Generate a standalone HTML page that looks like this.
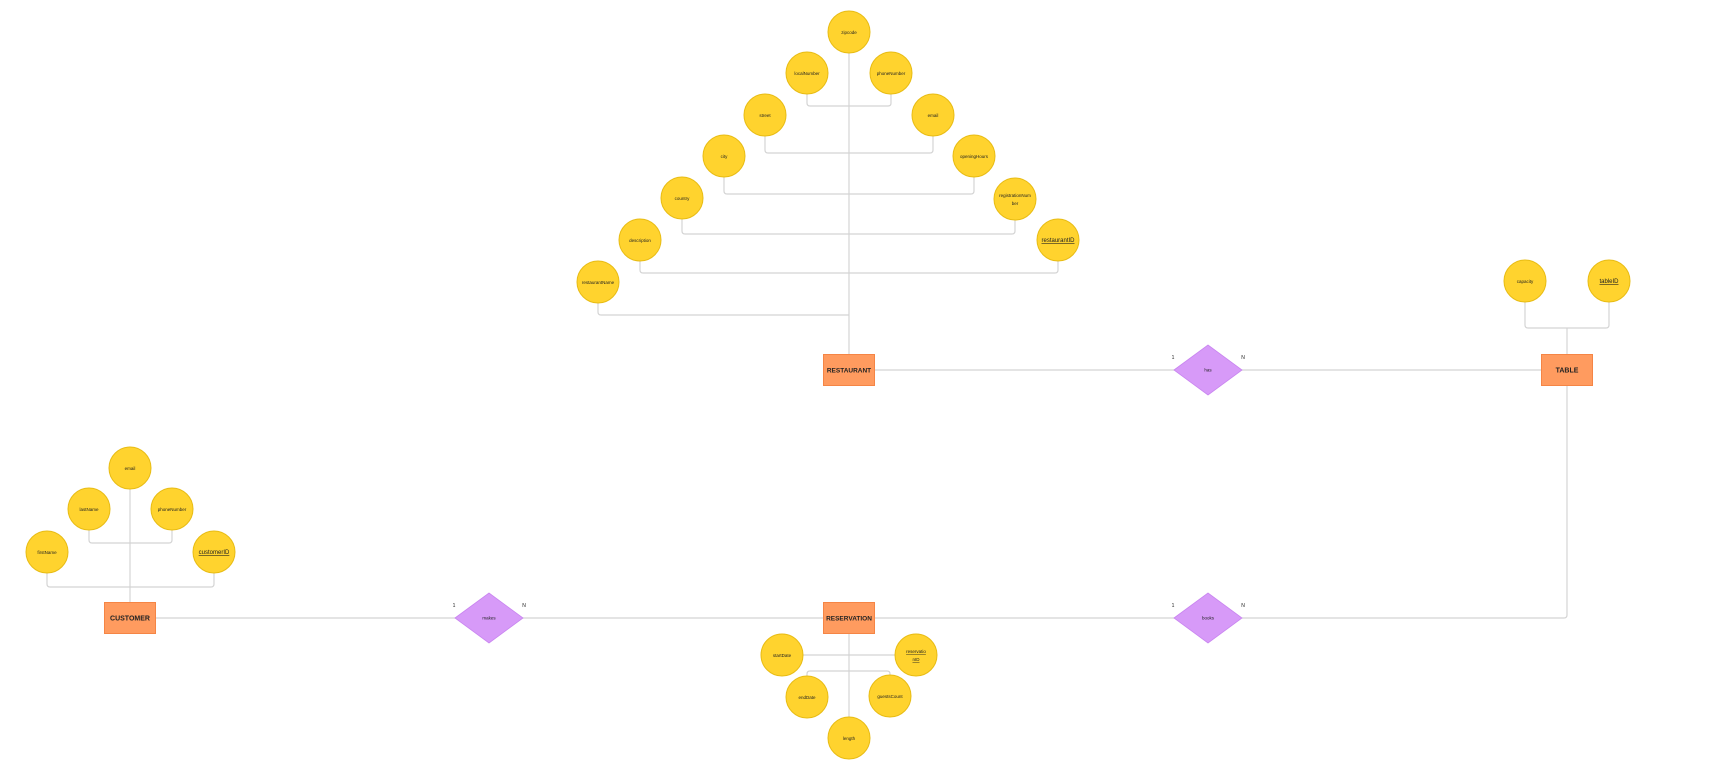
<!DOCTYPE html>
<html><head><meta charset="utf-8"><style>
html,body{margin:0;padding:0;background:#fff;}
svg{display:block;font-family:"Liberation Sans",sans-serif;}
</style></head><body>
<svg id="er" width="1717" height="783" viewBox="0 0 1717 783" xmlns="http://www.w3.org/2000/svg"></svg>
<script>
const attrNames = ["zipcode","localNumber","phoneNumber","street","email","city","openingHours","country","registrationNumber","description","restaurantID","restaurantName","email","lastName","phoneNumber","firstName","customerID","startDate","reservationID","endDate","guestsCount","length","capacity","tableID"];
const attrX = [849,807,891,765,933,724,974,682,1015,640,1058,598,130,89,172,47,214,782,916,807,890,849,1525,1609];
const attrY = [32,73,73,115,115,156,156,198,199,240,240,282,468,509,509,552,552,655,655,697,696,738,281,281];
const attrKey = [false,false,false,false,false,false,false,false,false,false,true,false,false,false,false,false,true,false,true,false,false,false,false,true];
const entNames = ["RESTAURANT","TABLE","CUSTOMER","RESERVATION"];
const entX = [849,1567,130,849];
const entY = [370,370,618,618];
const relNames = ["has","books","makes"];
const relX = [1208,1208,489];
const relY = [370,618,618];

const svg = document.getElementById('er');
const NS = "http://www.w3.org/2000/svg";
function mk(tag, attrs){ const e=document.createElementNS(NS,tag); for(const k in attrs) e.setAttribute(k,attrs[k]); svg.appendChild(e); return e; }
const LC = "#d4d4d4";
function path(d){ const p=mk('path',{d:d,fill:'none',stroke:LC,'stroke-width':1.2});
  
   return p; }
function bar(i,j,y){ // pair connector
  const r=21;
  path(`M${attrX[i]} ${attrY[i]+r} V${y-3} q0 3 3 3 H${attrX[j]-3} q3 0 3 -3 V${attrY[j]+r}`);
}
// restaurant connectors
path(`M849 53 V355`);
bar(1,2,106); bar(3,4,153); bar(5,6,194); bar(7,8,234); bar(9,10,273);
path(`M598 303 V312 q0 3 3 3 H849`);
// customer
path(`M130 489 V602`);
bar(13,14,543); bar(15,16,587);
// reservation
path(`M849 633 V717`);
path(`M803 655 H895`);
path(`M807 676 V674 q0 -3 3 -3 H887 q3 0 3 3 V675`);
// table
bar(22,23,328);
path(`M1567 328 V355`);
path(`M1567 385 V615 q0 3 -3 3 H1242`);
// relationship lines
path(`M874 370 H1542`);
path(`M156 618 H823`);
path(`M874 618 H1175`);

// attributes
for(let i=0;i<attrNames.length;i++){
  const c=mk('circle',{cx:attrX[i],cy:attrY[i],r:21,fill:'#FFD32E',stroke:'#E8BC14','stroke-width':1});
  
  
  const nm=attrNames[i];
  const lines = nm==="registrationNumber" ? ["registrationNum","ber"] : nm==="reservationID" ? ["reservatio","nID"] : [nm];
  lines.forEach((ln,k)=>{
    const big = attrKey[i] && nm!=="reservationID";
    const t=mk('text',{x:attrX[i],y:attrY[i]+2+(k-(lines.length-1)/2)*8,'text-anchor':'middle','font-size':big?6:4.5,fill:'#222','text-decoration':attrKey[i]?'underline':'none'});
    t.textContent=ln;
    
    
  });
}
// entities
for(let i=0;i<entNames.length;i++){
  const r=mk('rect',{x:entX[i]-25.5,y:entY[i]-15.5,width:51,height:31,fill:'#FF9B5F',stroke:'#F58545','stroke-width':1});
  
  
  const t=mk('text',{x:entX[i],y:entY[i]+2.5,'text-anchor':'middle','font-size':entNames[i].length>8?6.5:7,'font-weight':'bold',fill:'#222'});
  t.textContent=entNames[i];
  
  
}
// relationships
for(let i=0;i<relNames.length;i++){
  const x=relX[i],y=relY[i];
  const p=mk('polygon',{points:`${x-34},${y} ${x},${y-25} ${x+34},${y} ${x},${y+25}`,fill:'#D79AF8',stroke:'#C985F0','stroke-width':0.8});
  
  
  const t=mk('text',{x:x,y:y+1.5,'text-anchor':'middle','font-size':4.5,fill:'#222'});
  t.textContent=relNames[i];
  
  
  const a=mk('text',{x:x-35,y:y-11,'text-anchor':'middle','font-size':5,fill:'#222'}); a.textContent='1';
  
  
  const b=mk('text',{x:x+35,y:y-11,'text-anchor':'middle','font-size':5,fill:'#222'}); b.textContent='N';
  
  
}
</script>
</body></html>
